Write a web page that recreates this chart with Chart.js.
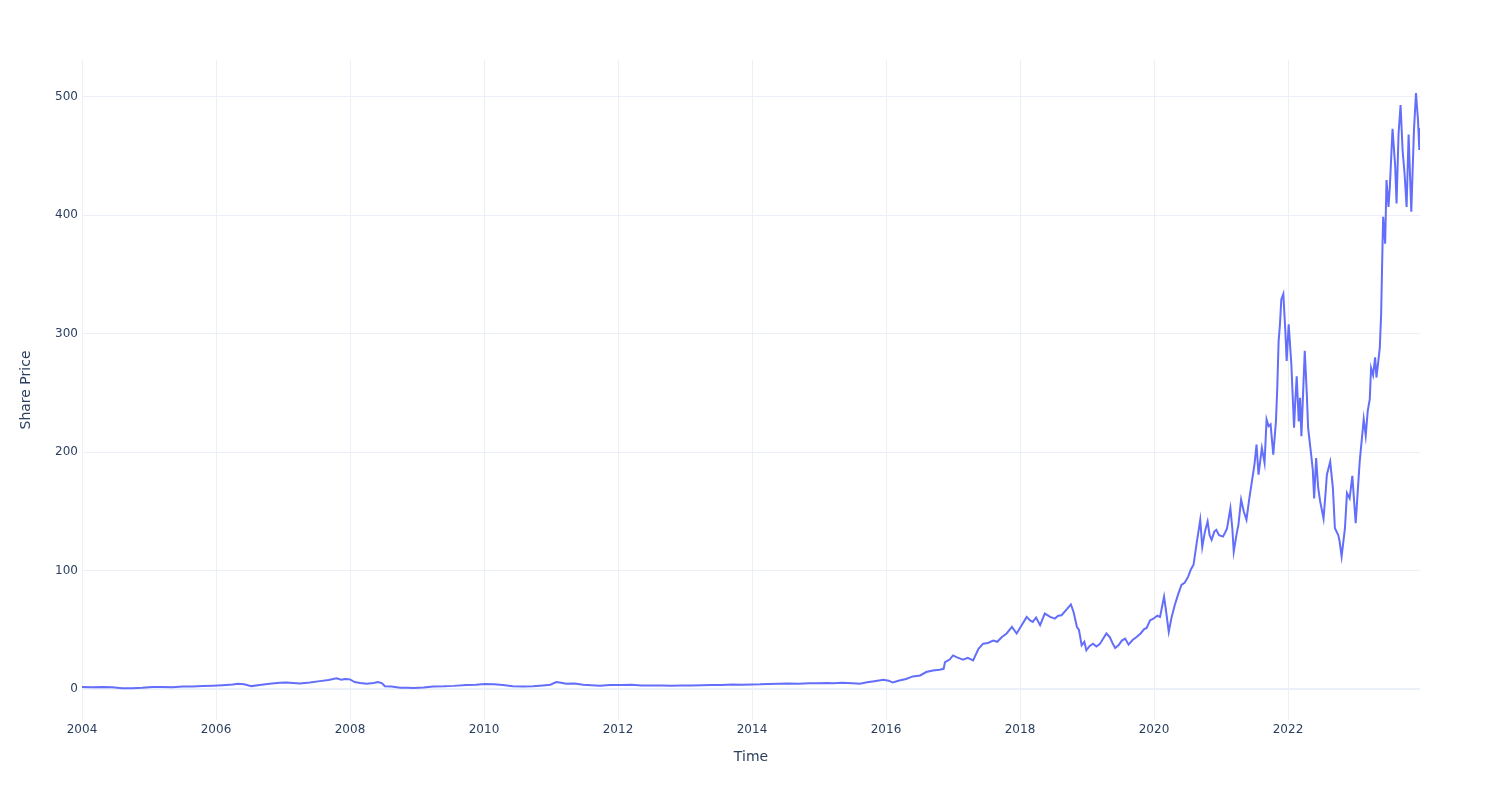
<!DOCTYPE html>
<html>
<head>
<meta charset="utf-8">
<script src="https://cdn.jsdelivr.net/npm/chart.js@4"></script>
<style>
  body { margin: 0; background: #fff; }
</style>
</head>
<body>
<canvas id="chart" width="1500" height="800"></canvas>
<script>
// share price (decimal year, price)
const years = [
  2004.00, 2004.15, 2004.30, 2004.45, 2004.60, 2004.75, 2004.90, 2005.05, 2005.20, 2005.35,
  2005.50, 2005.65, 2005.80, 2005.95, 2006.10, 2006.25, 2006.33, 2006.42, 2006.53, 2006.65,
  2006.80, 2006.95, 2007.05, 2007.15, 2007.25, 2007.40, 2007.55, 2007.68, 2007.80, 2007.87,
  2007.93, 2008.00, 2008.07, 2008.15, 2008.25, 2008.35, 2008.42, 2008.48, 2008.52, 2008.62,
  2008.75, 2008.85, 2008.95, 2009.10, 2009.24, 2009.40, 2009.55, 2009.74, 2009.88, 2010.01,
  2010.15, 2010.28, 2010.43, 2010.58, 2010.73, 2010.88, 2010.99, 2011.08, 2011.15, 2011.23,
  2011.35, 2011.48, 2011.60, 2011.73, 2011.88, 2012.05, 2012.20, 2012.35, 2012.50, 2012.65,
  2012.80, 2012.95, 2013.10, 2013.25, 2013.40, 2013.55, 2013.70, 2013.85, 2014.00, 2014.12,
  2014.25, 2014.40, 2014.55, 2014.70, 2014.85, 2015.00, 2015.12, 2015.21, 2015.35, 2015.50,
  2015.61, 2015.72, 2015.85, 2015.96, 2016.04, 2016.10, 2016.20, 2016.30, 2016.40, 2016.51,
  2016.60, 2016.70, 2016.80, 2016.86, 2016.88, 2016.95, 2017.00, 2017.06, 2017.15, 2017.22,
  2017.30, 2017.38, 2017.45, 2017.52, 2017.60, 2017.66, 2017.73, 2017.80, 2017.88, 2017.95,
  2018.02, 2018.10, 2018.15, 2018.19, 2018.24, 2018.30, 2018.37, 2018.45, 2018.52, 2018.57,
  2018.62, 2018.70, 2018.76, 2018.80, 2018.85, 2018.88, 2018.92, 2018.96, 2018.99, 2019.04,
  2019.09, 2019.14, 2019.19, 2019.24, 2019.29, 2019.34, 2019.38, 2019.42, 2019.47, 2019.52,
  2019.57, 2019.62, 2019.68, 2019.74, 2019.80, 2019.85, 2019.89, 2019.94, 2019.99, 2020.05,
  2020.09, 2020.15, 2020.18, 2020.22, 2020.26, 2020.31, 2020.36, 2020.41, 2020.46, 2020.51,
  2020.55, 2020.59, 2020.64, 2020.69, 2020.72, 2020.76, 2020.80, 2020.83, 2020.86, 2020.90,
  2020.93, 2020.97, 2021.03, 2021.06, 2021.09, 2021.14, 2021.17, 2021.19, 2021.23, 2021.26,
  2021.30, 2021.34, 2021.38, 2021.42, 2021.46, 2021.50, 2021.53, 2021.56, 2021.61, 2021.65,
  2021.68, 2021.71, 2021.74, 2021.78, 2021.82, 2021.84, 2021.86, 2021.88, 2021.90, 2021.93,
  2021.96, 2021.98, 2022.01, 2022.05, 2022.09, 2022.11, 2022.13, 2022.16, 2022.18, 2022.20,
  2022.25, 2022.28, 2022.30, 2022.34, 2022.37, 2022.39, 2022.42, 2022.45, 2022.48, 2022.53,
  2022.56, 2022.58, 2022.63, 2022.67, 2022.70, 2022.75, 2022.77, 2022.80, 2022.85, 2022.88,
  2022.92, 2022.96, 2023.01, 2023.05, 2023.07, 2023.10, 2023.13, 2023.16, 2023.19, 2023.22,
  2023.24, 2023.27, 2023.30, 2023.32, 2023.35, 2023.37, 2023.39, 2023.41, 2023.42, 2023.45,
  2023.47, 2023.50, 2023.52, 2023.56, 2023.60, 2023.62, 2023.65, 2023.68, 2023.71, 2023.74,
  2023.77, 2023.80, 2023.84, 2023.88, 2023.91, 2023.94, 2023.96, 2023.97
];

const prices = [
  1.9, 1.7, 1.9, 1.6, 0.9, 0.8, 1.2, 1.9, 1.9, 1.7,
  2.2, 2.3, 2.6, 3.0, 3.4, 3.9, 4.6, 4.2, 2.6, 3.5,
  4.6, 5.4, 5.6, 5.2, 4.8, 5.6, 6.8, 7.8, 9.2, 8.0,
  8.6, 8.3, 6.0, 5.2, 4.6, 5.3, 6.0, 5.0, 2.5, 2.3,
  1.2, 1.3, 1.1, 1.5, 2.2, 2.4, 2.8, 3.6, 3.7, 4.4,
  4.2, 3.5, 2.4, 2.3, 2.4, 3.2, 3.8, 6.0, 5.4, 4.6,
  4.7, 3.7, 3.3, 3.0, 3.5, 3.6, 3.7, 3.2, 3.1, 3.2,
  3.0, 3.1, 3.1, 3.3, 3.5, 3.6, 3.9, 3.8, 4.0, 4.1,
  4.4, 4.6, 4.8, 4.6, 5.0, 5.0, 5.3, 5.0, 5.4, 5.1,
  4.6, 5.8, 7.0, 7.9, 7.2, 5.6, 7.3, 8.6, 10.8, 11.6,
  14.5, 15.8, 16.5, 17.2, 22.9, 25.0, 28.5, 26.8, 25.0, 26.5,
  24.3, 34.0, 38.4, 39.0, 41.0, 40.0, 44.0, 47.0, 52.5, 47.0,
  53.5, 61.0, 58.0, 56.8, 60.5, 54.0, 63.8, 61.0, 59.6, 62.0,
  62.4, 67.5, 71.5, 65.0, 52.5, 50.0, 37.0, 40.0, 32.8, 36.5,
  38.4, 36.0, 38.0, 42.5, 47.0, 44.0, 39.0, 34.7, 37.0, 41.0,
  42.7, 37.6, 41.5, 44.0, 47.0, 50.5, 51.7, 58.0, 59.5, 62.0,
  61.0, 78.0, 66.0, 48.3, 60.0, 71.0, 80.0, 88.0, 90.0, 95.0,
  101.0, 105.0, 124.6, 143.0, 120.0, 133.0, 141.5, 130.0, 126.0, 133.0,
  134.5, 130.0, 128.8, 132.0, 135.7, 152.8, 135.0, 116.0, 130.0, 138.7,
  160.0, 150.0, 143.0, 160.0, 175.0, 190.0, 206.5, 181.0, 203.6, 191.0,
  227.7, 222.0, 223.5, 198.0, 226.0, 255.0, 294.0, 308.0, 329.0, 333.6,
  302.5, 277.0, 308.0, 274.0, 220.6, 245.0, 264.0, 226.0, 246.0, 213.6,
  285.6, 250.0, 220.6, 200.8, 185.0, 161.0, 195.0, 170.0, 158.5, 144.0,
  165.0, 181.0, 192.0, 169.7, 135.8, 130.0, 125.0, 112.0, 136.0, 165.5,
  161.0, 180.0, 140.0, 175.0, 192.0, 210.0, 228.0, 214.0, 235.0, 244.6,
  271.0, 265.0, 280.0, 263.0, 278.0, 288.0, 316.7, 373.0, 398.6, 376.0,
  429.7, 407.0, 424.0, 473.0, 441.0, 410.0, 469.0, 493.0, 455.0, 435.0,
  407.0, 468.0, 403.0, 472.0, 503.0, 480.5, 455.0, 473.6
];

const xTicks = [2004, 2006, 2008, 2010, 2012, 2014, 2016, 2018, 2020, 2022];
const yTicks = [0, 100, 200, 300, 400, 500];

const gridColor = "#ebf0f8";
const textColor = "#2a3f5f";
const fontFamily = "'DejaVu Sans', Verdana, Arial, sans-serif";

const points = years.map((y, i) => ({ x: y, y: prices[i] }));

new Chart(document.getElementById("chart"), {
  type: "line",
  data: {
    datasets: [{
      data: points,
      borderColor: "#636efa",
      borderWidth: 2,
      pointRadius: 0,
      tension: 0,
      fill: false
    }]
  },
  options: {
    responsive: false,
    animation: false,
    layout: { padding: { left: 0, right: 80, top: 60, bottom: 0 } },
    plugins: {
      legend: { display: false },
      tooltip: { enabled: false }
    },
    scales: {
      x: {
        type: "linear",
        min: 2004,
        max: years[years.length - 1],
        afterFit: (scale) => { scale.height = 80; },
        afterBuildTicks: (scale) => { scale.ticks = xTicks.map(v => ({ value: v })); },
        border: { display: false },
        grid: { color: gridColor, lineWidth: 1, drawTicks: false },
        ticks: {
          color: textColor,
          font: { family: fontFamily, size: 12 },
          padding: 3,
          maxRotation: 0,
          callback: (v) => String(v)
        },
        title: {
          display: true,
          text: "Time",
          color: textColor,
          font: { family: fontFamily, size: 14 },
          padding: { top: 0, bottom: 34 }
        }
      },
      y: {
        min: -26,
        max: 531,
        afterFit: (scale) => { scale.width = 82; },
        afterBuildTicks: (scale) => { scale.ticks = yTicks.map(v => ({ value: v })); },
        border: { display: false },
        grid: {
          color: gridColor,
          lineWidth: (ctx) => (ctx.tick && ctx.tick.value === 0 ? 2 : 1),
          drawTicks: false
        },
        ticks: {
          color: textColor,
          font: { family: fontFamily, size: 12 },
          padding: 4,
          callback: (v) => String(v)
        },
        title: {
          display: true,
          text: "Share Price",
          color: textColor,
          font: { family: fontFamily, size: 14 },
          padding: { top: 18, bottom: 0 }
        }
      }
    }
  }
});
</script>
</body>
</html>
